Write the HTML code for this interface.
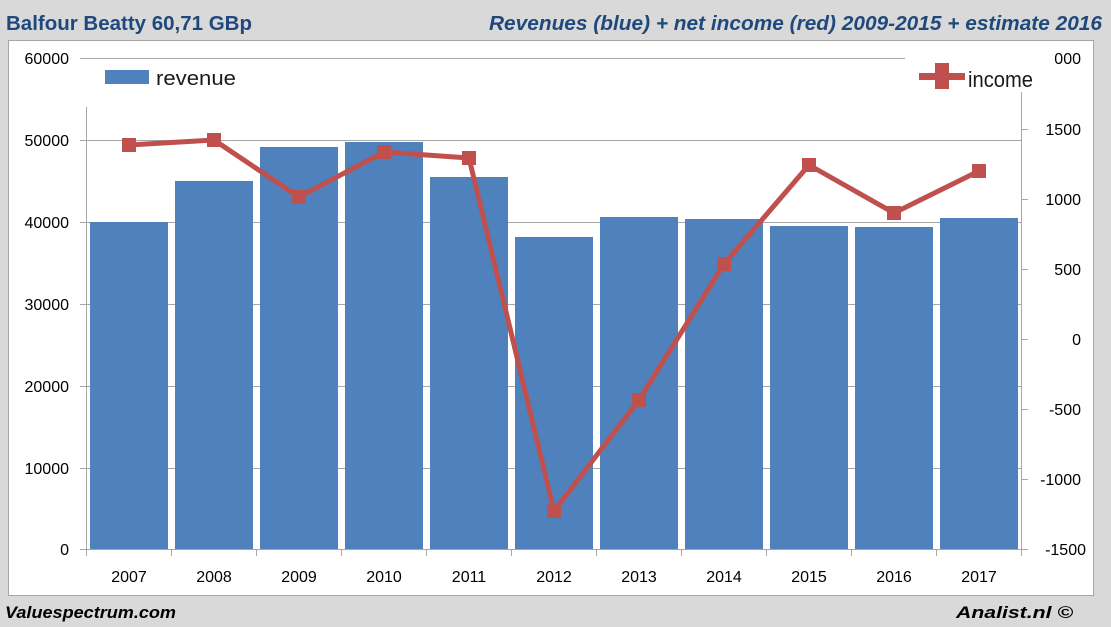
<!DOCTYPE html>
<html><head><meta charset="utf-8"><style>
html,body{margin:0;padding:0;background:#d9d9d9;}
svg{display:block;font-family:"Liberation Sans",sans-serif;}
</style></head><body>
<svg width="1111" height="627" viewBox="0 0 1111 627" xmlns="http://www.w3.org/2000/svg">
<rect x="0" y="0" width="1111" height="627" fill="#d9d9d9"/>
<text x="6" y="30" font-size="20" font-weight="bold" fill="#1f497d" textLength="246" lengthAdjust="spacingAndGlyphs">Balfour Beatty 60,71 GBp</text>
<text x="489" y="30" font-size="20" font-weight="bold" font-style="italic" fill="#1f497d" textLength="613" lengthAdjust="spacingAndGlyphs">Revenues (blue) + net income (red) 2009-2015 + estimate 2016</text>
<rect x="8.5" y="40.5" width="1085" height="555" fill="#fff" stroke="#a6a6a6"/>
<!-- gridlines -->
<g stroke="#a6a6a6" stroke-width="1">
<line x1="80" y1="58.5" x2="905" y2="58.5"/>
<line x1="80" y1="140.5" x2="1021" y2="140.5"/>
<line x1="80" y1="222.5" x2="1021" y2="222.5"/>
<line x1="80" y1="304.5" x2="1021" y2="304.5"/>
<line x1="80" y1="386.5" x2="1021" y2="386.5"/>
<line x1="80" y1="468.5" x2="1021" y2="468.5"/>
<line x1="80" y1="549.5" x2="1028" y2="549.5"/>
<line x1="86.5" y1="107" x2="86.5" y2="556"/>
<line x1="1021.5" y1="92" x2="1021.5" y2="556"/>
<line x1="1021" y1="129.5" x2="1028" y2="129.5"/>
<line x1="1021" y1="199.5" x2="1028" y2="199.5"/>
<line x1="1021" y1="269.5" x2="1028" y2="269.5"/>
<line x1="1021" y1="339.5" x2="1028" y2="339.5"/>
<line x1="1021" y1="409.5" x2="1028" y2="409.5"/>
<line x1="1021" y1="479.5" x2="1028" y2="479.5"/>
</g>
<!-- bars -->
<g fill="#4f81bd">
<rect x="90" y="222" width="78" height="327"/>
<rect x="175" y="181" width="78" height="368"/>
<rect x="260" y="147" width="78" height="402"/>
<rect x="345" y="142" width="78" height="407"/>
<rect x="430" y="177" width="78" height="372"/>
<rect x="515" y="237" width="78" height="312"/>
<rect x="600" y="217" width="78" height="332"/>
<rect x="685" y="219" width="78" height="330"/>
<rect x="770" y="226" width="78" height="323"/>
<rect x="855" y="227" width="78" height="322"/>
<rect x="940" y="218" width="78" height="331"/>
</g>
<g stroke="#a6a6a6"><line x1="171.5" y1="549" x2="171.5" y2="556"/><line x1="256.5" y1="549" x2="256.5" y2="556"/><line x1="341.5" y1="549" x2="341.5" y2="556"/><line x1="426.5" y1="549" x2="426.5" y2="556"/><line x1="511.5" y1="549" x2="511.5" y2="556"/><line x1="596.5" y1="549" x2="596.5" y2="556"/><line x1="681.5" y1="549" x2="681.5" y2="556"/><line x1="766.5" y1="549" x2="766.5" y2="556"/><line x1="851.5" y1="549" x2="851.5" y2="556"/><line x1="936.5" y1="549" x2="936.5" y2="556"/></g>
<!-- income line -->
<polyline fill="none" stroke="#c0504d" stroke-width="5" stroke-linejoin="round" points="129,145 214,140 299,197 384,152 469,158 554,511 639,400 724,264 809,165 894,213 979,171"/>
<g fill="#c0504d">
<rect x="122" y="138" width="14" height="14"/><rect x="207" y="133" width="14" height="14"/><rect x="292" y="190" width="14" height="14"/><rect x="377" y="145" width="14" height="14"/><rect x="462" y="151" width="14" height="14"/><rect x="547" y="504" width="14" height="14"/><rect x="632" y="393" width="14" height="14"/><rect x="717" y="257" width="14" height="14"/><rect x="802" y="158" width="14" height="14"/><rect x="887" y="206" width="14" height="14"/><rect x="972" y="164" width="14" height="14"/>
</g>
<!-- legends -->
<rect x="105" y="70" width="44" height="14" fill="#4f81bd"/>
<text x="156" y="85" font-size="20" fill="#1a1a1a" textLength="80" lengthAdjust="spacingAndGlyphs">revenue</text>
<rect x="919" y="73" width="46" height="7" fill="#c0504d"/>
<rect x="935" y="63" width="14" height="26" fill="#c0504d"/>
<text x="968" y="87" font-size="22" fill="#1a1a1a" textLength="65" lengthAdjust="spacingAndGlyphs">income</text>
<!-- left labels -->
<g font-size="16" fill="#000" text-anchor="end">
<text x="69" y="64">60000</text><text x="69" y="146">50000</text><text x="69" y="228">40000</text><text x="69" y="310">30000</text><text x="69" y="392">20000</text><text x="69" y="474">10000</text><text x="69" y="555">0</text>
</g>
<g font-size="16" fill="#000" text-anchor="end">
<text x="1081" y="64">000</text><text x="1081" y="135">1500</text><text x="1081" y="205">1000</text><text x="1081" y="275">500</text><text x="1081" y="345">0</text><text x="1081" y="415">-500</text><text x="1081" y="485">-1000</text><text x="1086" y="555">-1500</text>
</g>
<g font-size="16" fill="#000" text-anchor="middle">
<text x="129" y="582">2007</text><text x="214" y="582">2008</text><text x="299" y="582">2009</text><text x="384" y="582">2010</text><text x="469" y="582">2011</text><text x="554" y="582">2012</text><text x="639" y="582">2013</text><text x="724" y="582">2014</text><text x="809" y="582">2015</text><text x="894" y="582">2016</text><text x="979" y="582">2017</text>
</g>
<text x="5" y="618" font-size="17" font-weight="bold" font-style="italic" fill="#000" textLength="171" lengthAdjust="spacingAndGlyphs">Valuespectrum.com</text>
<text x="956" y="618" font-size="17" font-weight="bold" font-style="italic" fill="#000" textLength="117" lengthAdjust="spacingAndGlyphs">Analist.nl ©</text>
</svg>
</body></html>
